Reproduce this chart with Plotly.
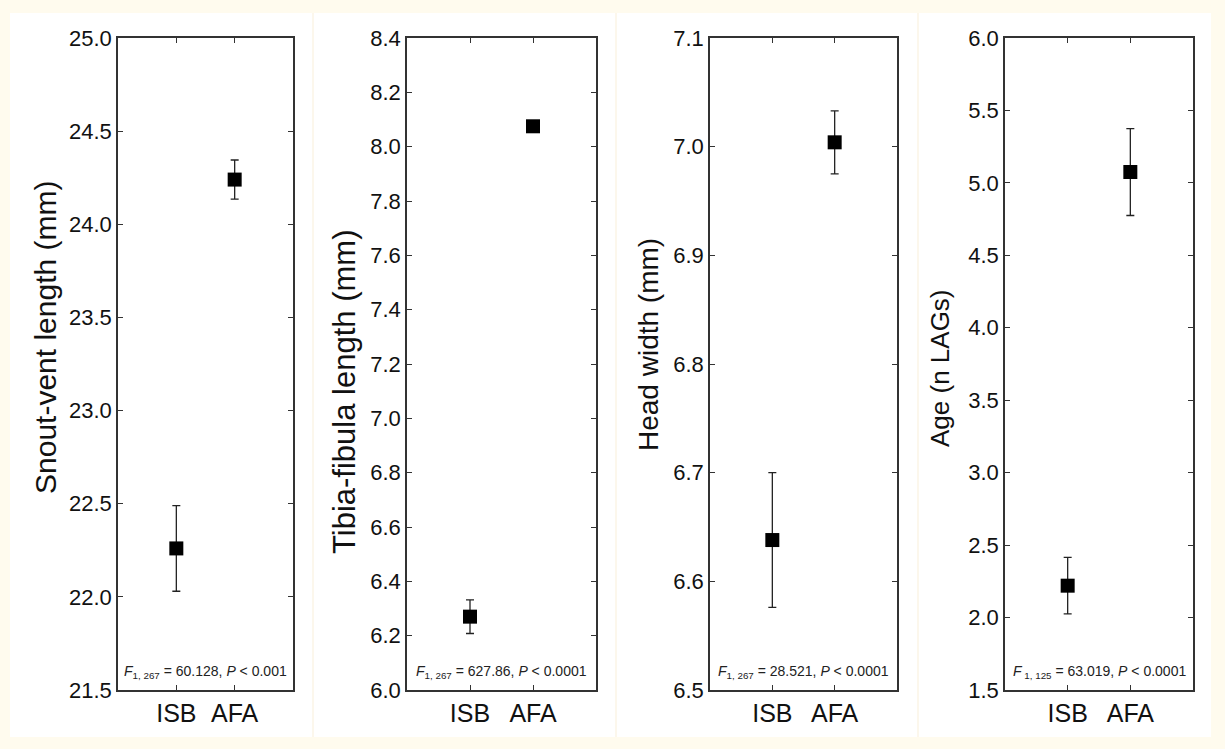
import plotly.graph_objects as go

W, H = 1225, 749

groups = ["ISB", "AFA"]

svl_mean = [22.26, 24.24]
svl_err = [0.23, 0.105]
tf_mean = [6.27, 8.075]
tf_err = [0.062, 0.02]
hw_mean = [6.638, 7.004]
hw_err = [0.062, 0.029]
age_mean = [2.22, 5.075]
age_err = [0.195, 0.30]

titles = ["Snout-vent length (mm)", "Tibia-fibula length (mm)", "Head width (mm)", "Age (n LAGs)"]
stats = [
    "<i>F</i><sub>1, 267</sub> = 60.128, <i>P</i> &lt; 0.001",
    "<i>F</i><sub>1, 267</sub> = 627.86, <i>P</i> &lt; 0.0001",
    "<i>F</i><sub>1, 267</sub> = 28.521, <i>P</i> &lt; 0.0001",
    "<i>F</i><sub> 1, 125</sub> = 63.019, <i>P</i> &lt; 0.0001",
]
yranges = [(21.5, 25.0, 0.5), (6.0, 8.4, 0.2), (6.5, 7.1, 0.1), (1.5, 6.0, 0.5)]

means = [svl_mean, tf_mean, hw_mean, age_mean]
errs = [svl_err, tf_err, hw_err, age_err]

# pixel layout
xdom_px = [(118, 293), (407, 596), (710, 897), (1005, 1193)]
top_px, bot_px = 38, 690
title_pos = [(45, 338), (345, 392), (648, 345), (940, 368)]
title_size = [30, 31, 28, 26]

FONT = "Liberation Sans, Arial, sans-serif"

fig = go.Figure()
layout = dict(
    width=W, height=H, autosize=False,
    margin=dict(l=0, r=0, t=0, b=0, pad=0),
    paper_bgcolor="#FFFBEE",
    plot_bgcolor="white",
    showlegend=False,
    font=dict(family=FONT, color="#111"),
    shapes=[],
    annotations=[],
)

layout["shapes"].append(dict(type="rect", xref="paper", yref="paper",
                             x0=10 / W, x1=1211 / W, y0=1 - 737 / H, y1=1 - 13 / H,
                             fillcolor="white", line=dict(width=0), layer="below"))
for sx in [313, 616, 918]:
    layout["shapes"].append(dict(type="line", xref="paper", yref="paper",
                                 x0=sx / W, x1=sx / W, y0=1 - 737 / H, y1=1 - 13 / H,
                                 line=dict(color="#FCF7EC", width=2), layer="below"))

for i in range(4):
    n = "" if i == 0 else str(i + 1)
    xa, ya = "x" + n, "y" + n
    fig.add_trace(go.Scatter(
        x=groups, y=means[i], xaxis=xa, yaxis=ya, mode="markers",
        marker=dict(symbol="square", size=14, color="black"),
        error_y=dict(type="data", array=errs[i], visible=True, color="#222",
                     thickness=1.3, width=4),
    ))
    lo, hi, step = yranges[i]
    nt = int(round((hi - lo) / step)) + 1
    tv = [round(lo + k * step, 3) for k in range(nt)]
    x0, x1 = xdom_px[i]
    layout["xaxis" + n] = dict(
        domain=[x0 / W, x1 / W], anchor=ya, type="category",
        categoryorder="array", categoryarray=groups, automargin=False,
        range=[-1, 2], showline=True, mirror="ticks", linecolor="#333", linewidth=1.5,
        ticks="inside", ticklen=5, tickcolor="#333", tickwidth=1.2,
        showgrid=False, zeroline=False,
        tickfont=dict(size=25, family=FONT, color="#111"),
    )
    layout["yaxis" + n] = dict(
        domain=[1 - bot_px / H, 1 - top_px / H], anchor=xa, automargin=False,
        range=[lo, hi], tickvals=tv, ticktext=[f"{v:.1f}" for v in tv],
        showline=True, mirror="ticks", linecolor="#333", linewidth=1.5,
        ticks="inside", ticklen=5, tickcolor="#333", tickwidth=1.2,
        showgrid=False, zeroline=False,
        tickfont=dict(size=22, family=FONT, color="#111"),
    )
    layout["annotations"].append(dict(
        xref="paper", yref="paper", x=(x0 + x1) / 2 / W, y=1 - 672 / H,
        text=stats[i], showarrow=False, xanchor="center", yanchor="middle",
        font=dict(size=14, family=FONT, color="#222"),
    ))
    tx, ty = title_pos[i]
    layout["annotations"].append(dict(
        xref="paper", yref="paper", x=tx / W, y=1 - ty / H,
        text=titles[i], textangle=-90, showarrow=False,
        xanchor="center", yanchor="middle",
        font=dict(size=title_size[i], family=FONT, color="#111"),
    ))

fig.update_layout(**layout)
fig.write_html("out.html", config={"displayModeBar": False},
               post_script="document.body.style.margin='0';document.body.style.overflow='hidden';")
